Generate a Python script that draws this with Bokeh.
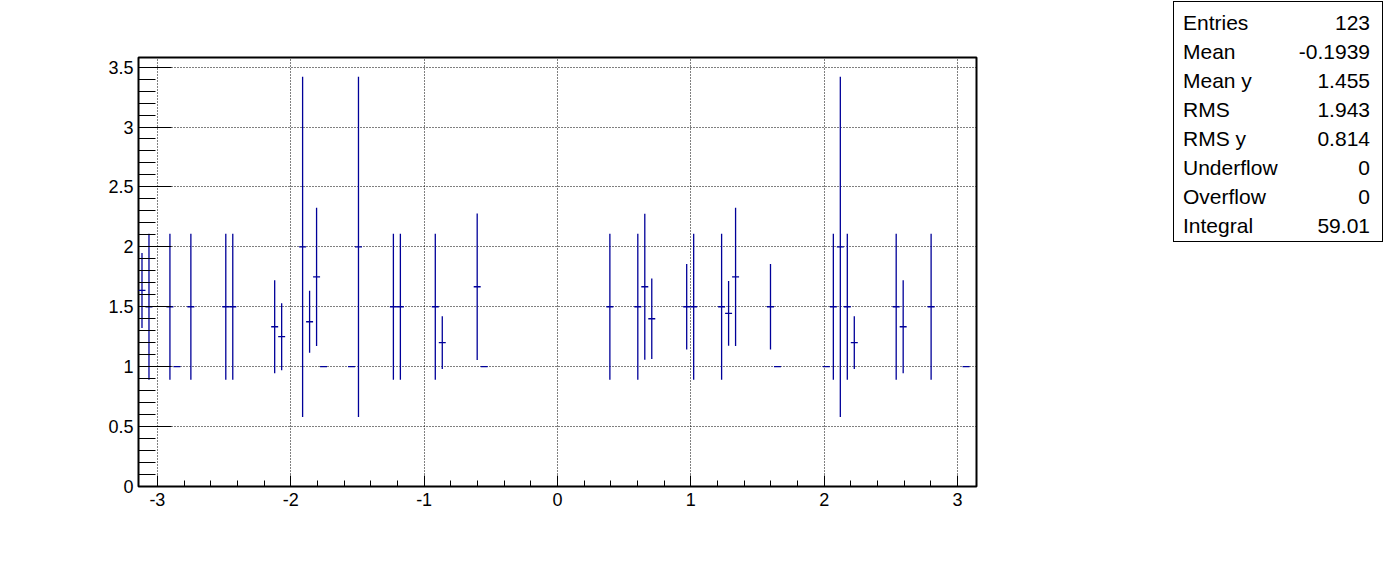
import numpy as np
from bokeh.plotting import figure
from bokeh.layouts import row
from bokeh.models import (FixedTicker, CustomJSTickFormatter, Range1d, ColumnDataSource, Div)
from bokeh.embed import file_html
from bokeh.resources import INLINE

# ---- data (TProfile, 120 bins over [-pi, pi]) ----
n_bins = 120
x_low = -np.pi
x_high = np.pi

bin_index = [0, 1, 4, 5, 7, 12, 13, 19, 20, 23, 24, 25, 26, 30, 31, 36, 37, 42, 43, 48, 49,
             67, 71, 72, 73, 78, 79, 83, 84, 85, 90, 91,
             98, 99, 100, 101, 102, 108, 109, 113, 118]
bin_mean = [1.636, 1.5, 1.5, 1.0, 1.5, 1.5, 1.5, 1.333, 1.25, 2.0, 1.375, 1.75, 1.0, 1.0, 2.0,
            1.5, 1.5, 1.5, 1.2, 1.667, 1.0,
            1.5, 1.5, 1.667, 1.4, 1.5, 1.5, 1.5, 1.444, 1.75, 1.5, 1.0,
            1.0, 1.5, 2.0, 1.5, 1.2, 1.5, 1.333, 1.5, 1.0]
bin_error = [0.313, 0.61, 0.61, 0.0, 0.61, 0.61, 0.61, 0.388, 0.28, 1.42, 0.258, 0.577, 0.0, 0.0, 1.42,
             0.61, 0.61, 0.61, 0.22, 0.612, 0.0,
             0.61, 0.61, 0.61, 0.336, 0.357, 0.61, 0.61, 0.27, 0.577, 0.357, 0.0,
             0.0, 0.61, 1.42, 0.61, 0.22, 0.61, 0.388, 0.61, 0.0]

stat_names = ["Entries", "Mean", "Mean y", "RMS", "RMS y", "Underflow", "Overflow", "Integral"]
stat_values = ["123", "-0.1939", "1.455", "1.943", "0.814", "0", "0", "59.01"]

x_ticks = [-3, -2, -1, 0, 1, 2, 3]
y_ticks = [0, 0.5, 1, 1.5, 2, 2.5, 3, 3.5]
y_top = 3.58

# ---- derived ----
w = (x_high - x_low) / n_bins
idx = np.array(bin_index)
mean = np.array(bin_mean)
err = np.array(bin_error)
cent = x_low + (idx + 0.5) * w

horiz = ColumnDataSource(dict(x0=cent - w / 2, x1=cent + w / 2, y=mean))
m = err > 0
vert = ColumnDataSource(dict(x=cent[m], y0=(mean - err)[m], y1=(mean + err)[m]))

FONT = "Liberation Sans"
COL = "#000099"

P_W, P_H = 1170, 556
p = figure(width=P_W, height=P_H, x_range=Range1d(x_low, x_high), y_range=Range1d(0, y_top),
           output_backend="svg", toolbar_location=None,
           min_border_left=138, min_border_right=P_W - 976, min_border_top=57, min_border_bottom=P_H - 486)
p.background_fill_color = "white"
p.border_fill_color = "white"
p.outline_line_color = "black"
p.outline_line_width = 2
p.outline_line_alpha = 1

for g in (p.xgrid, p.ygrid):
    g.grid_line_color = "black"
    g.grid_line_dash = "1 2"
    g.grid_line_width = 1
    g.grid_line_alpha = 1

x_minor = [round(v, 1) for v in np.arange(-3.2, 3.21, 0.2)]
y_minor = [round(v, 1) for v in np.arange(0, 3.61, 0.1)]
p.xaxis.ticker = FixedTicker(ticks=x_ticks, minor_ticks=x_minor)
p.yaxis.ticker = FixedTicker(ticks=y_ticks, minor_ticks=y_minor)
fmt = CustomJSTickFormatter(code="return (Math.round(tick*10)/10).toString();")
p.xaxis.formatter = fmt
p.yaxis.formatter = fmt

for ax in (p.xaxis, p.yaxis):
    ax.axis_line_color = None
    ax.major_tick_line_color = "black"
    ax.minor_tick_line_color = "black"
    ax.major_tick_out = 0
    ax.minor_tick_out = 0
    ax.major_label_text_font = FONT
    ax.major_label_text_font_size = "18px"
    ax.major_label_text_color = "black"
p.xaxis.major_tick_in = 11
p.xaxis.minor_tick_in = 6
p.yaxis.major_tick_in = 33
p.yaxis.minor_tick_in = 17
p.xaxis.major_label_standoff = 6
p.yaxis.major_label_standoff = 5

p.segment(x0="x", y0="y0", x1="x", y1="y1", source=vert, line_color=COL, line_width=1.3)
p.segment(x0="x0", y0="y", x1="x1", y1="y", source=horiz, line_color=COL, line_width=1.3)

# ---- stats box (ROOT TPaveStats) as an HTML panel to the right ----
Q_W, Q_H = 216, 246
parts = [f'<div style="position:relative;width:{Q_W}px;height:{Q_H}px;margin:0;padding:0;'
         f'font-family:\'{FONT}\';font-size:21px;color:black;">',
         '<div style="position:absolute;left:3px;top:1px;width:210px;height:241px;'
         'border:1px solid black;box-sizing:border-box;background:white;"></div>']
for i, (nm, vl) in enumerate(zip(stat_names, stat_values)):
    top = 23.0 + 29.0 * i - 12
    parts.append(f'<div style="position:absolute;left:13px;top:{top:.1f}px;line-height:24px;'
                 f'white-space:nowrap;">{nm}</div>')
    parts.append(f'<div style="position:absolute;right:{Q_W - 200}px;top:{top:.1f}px;line-height:24px;'
                 f'white-space:nowrap;text-align:right;">{vl}</div>')
parts.append('</div>')
stats = Div(text="".join(parts), width=Q_W, height=Q_H, margin=0)

layout = row(p, stats, spacing=0)
open("out.html", "w").write(file_html(layout, INLINE))
